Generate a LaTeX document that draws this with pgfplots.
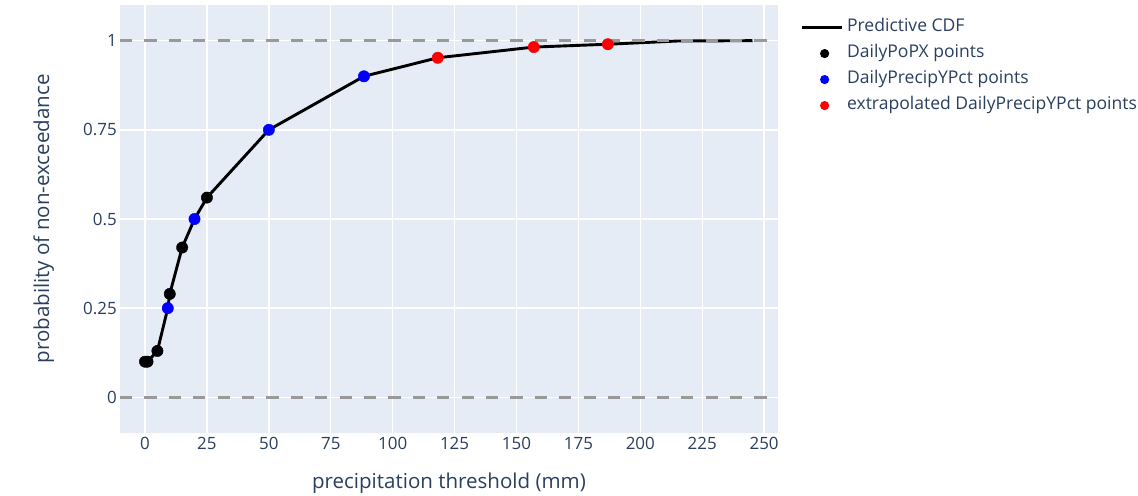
\documentclass[border=0pt]{standalone}
\usepackage{pgfplots}
\pgfplotsset{compat=1.18}
\usepackage{fontspec}
\setmainfont{Open Sans}
\definecolor{plotbg}{HTML}{E5ECF6}
\definecolor{txt}{HTML}{2A3F5F}
\definecolor{dashgray}{HTML}{999999}
\definecolor{pblue}{HTML}{0000FF}
\definecolor{pred}{HTML}{FF0000}
\begin{document}
\begin{tikzpicture}
\useasboundingbox (-120bp,-63bp) rectangle (1018bp,433bp);
\begin{axis}[
  at={(0,0)}, anchor=south west,
  scale only axis, width=658bp, height=428bp,
  xmin=-10.1, xmax=255.6, ymin=-0.1, ymax=1.1,
  axis background/.style={fill=plotbg},
  axis line style={draw=none},
  tick style={draw=none},
  major tick length=0pt,
  grid=major,
  major grid style={white, line width=1.4bp},
  xtick={0,25,...,250},
  ytick={0,0.25,0.5,0.75,1},
  yticklabels={0,0.25,0.5,0.75,1},
  /pgf/number format/assume math mode=true,
  ticklabel style={font=\fontsize{17}{20}\selectfont, text=txt},
  xticklabel style={inner sep=0pt, anchor=north, yshift=-4bp},
  yticklabel style={inner sep=0pt, anchor=east, xshift=-3bp},
  xlabel={precipitation threshold (mm)},
  ylabel={probability of non-exceedance},
  label style={font=\fontsize{20.6}{24}\selectfont, text=txt},
  xlabel style={at={(axis description cs:0.5,-0.1308)}, anchor=base},
  ylabel style={at={(axis description cs:-0.1079,0.5)}, anchor=base, rotate=0},
  legend style={at={(axis description cs:1.0334,0.967)}, anchor=north west,
    draw=none, fill=none, font=\fontsize{17.6}{20}\selectfont, text=txt,
    row sep=9.5bp, inner sep=0pt,
    nodes={inner sep=0pt, text height=12.5bp, text depth=4bp},
    /tikz/every odd column/.append style={column sep=2.5bp}},
  legend cell align=left,
  clip=false,
]
\addplot[black, line width=2.9bp, line join=round,
  legend image code/.code={\path[draw=none] (0bp,0bp) -- (40bp,0bp); \draw[black, line width=2.9bp] (-3bp,0bp) -- (37bp,0bp);}] coordinates {
 (0,0.1) (1,0.1) (5,0.13) (9.2,0.25) (10,0.29) (15,0.42) (20,0.5) (25,0.56)
 (50,0.75) (88.4,0.9) (118.2,0.952) (157,0.982) (186.9,0.99) (215,0.999) (245.3,1)
};
\addlegendentry{Predictive CDF}
\addplot[dashgray, line width=2.6bp, dash pattern=on 12.2bp off 12.2bp, forget plot] coordinates {(-10.1,0) (255.6,0)};
\addplot[dashgray, line width=2.6bp, dash pattern=on 12.2bp off 12.2bp, forget plot] coordinates {(-10.1,1) (255.6,1)};
\addplot[only marks, mark=*, mark size=5.7bp, black, mark options={draw=none, fill=black},
  legend image code/.code={\path[draw=none] (0bp,0bp) -- (40bp,0bp); \fill[black,draw=none] (20bp,0bp) circle (4.6bp);}] coordinates {
 (0,0.1) (1,0.1) (5,0.13) (10,0.29) (15,0.42) (25,0.56)
};
\addlegendentry{DailyPoPX points}
\addplot[only marks, mark=*, mark size=5.7bp, pblue, mark options={draw=none, fill=pblue},
  legend image code/.code={\path[draw=none] (0bp,0bp) -- (40bp,0bp); \fill[pblue,draw=none] (20bp,0bp) circle (4.6bp);}] coordinates {
 (9.2,0.25) (20,0.5) (50,0.75) (88.4,0.9)
};
\addlegendentry{DailyPrecipYPct points}
\addplot[only marks, mark=*, mark size=5.7bp, pred, mark options={draw=none, fill=pred},
  legend image code/.code={\path[draw=none] (0bp,0bp) -- (40bp,0bp); \fill[pred,draw=none] (20bp,0bp) circle (4.6bp);}] coordinates {
 (118.2,0.952) (157,0.982) (186.9,0.99)
};
\addlegendentry{extrapolated DailyPrecipYPct points}
\end{axis}
\end{tikzpicture}
\end{document}
